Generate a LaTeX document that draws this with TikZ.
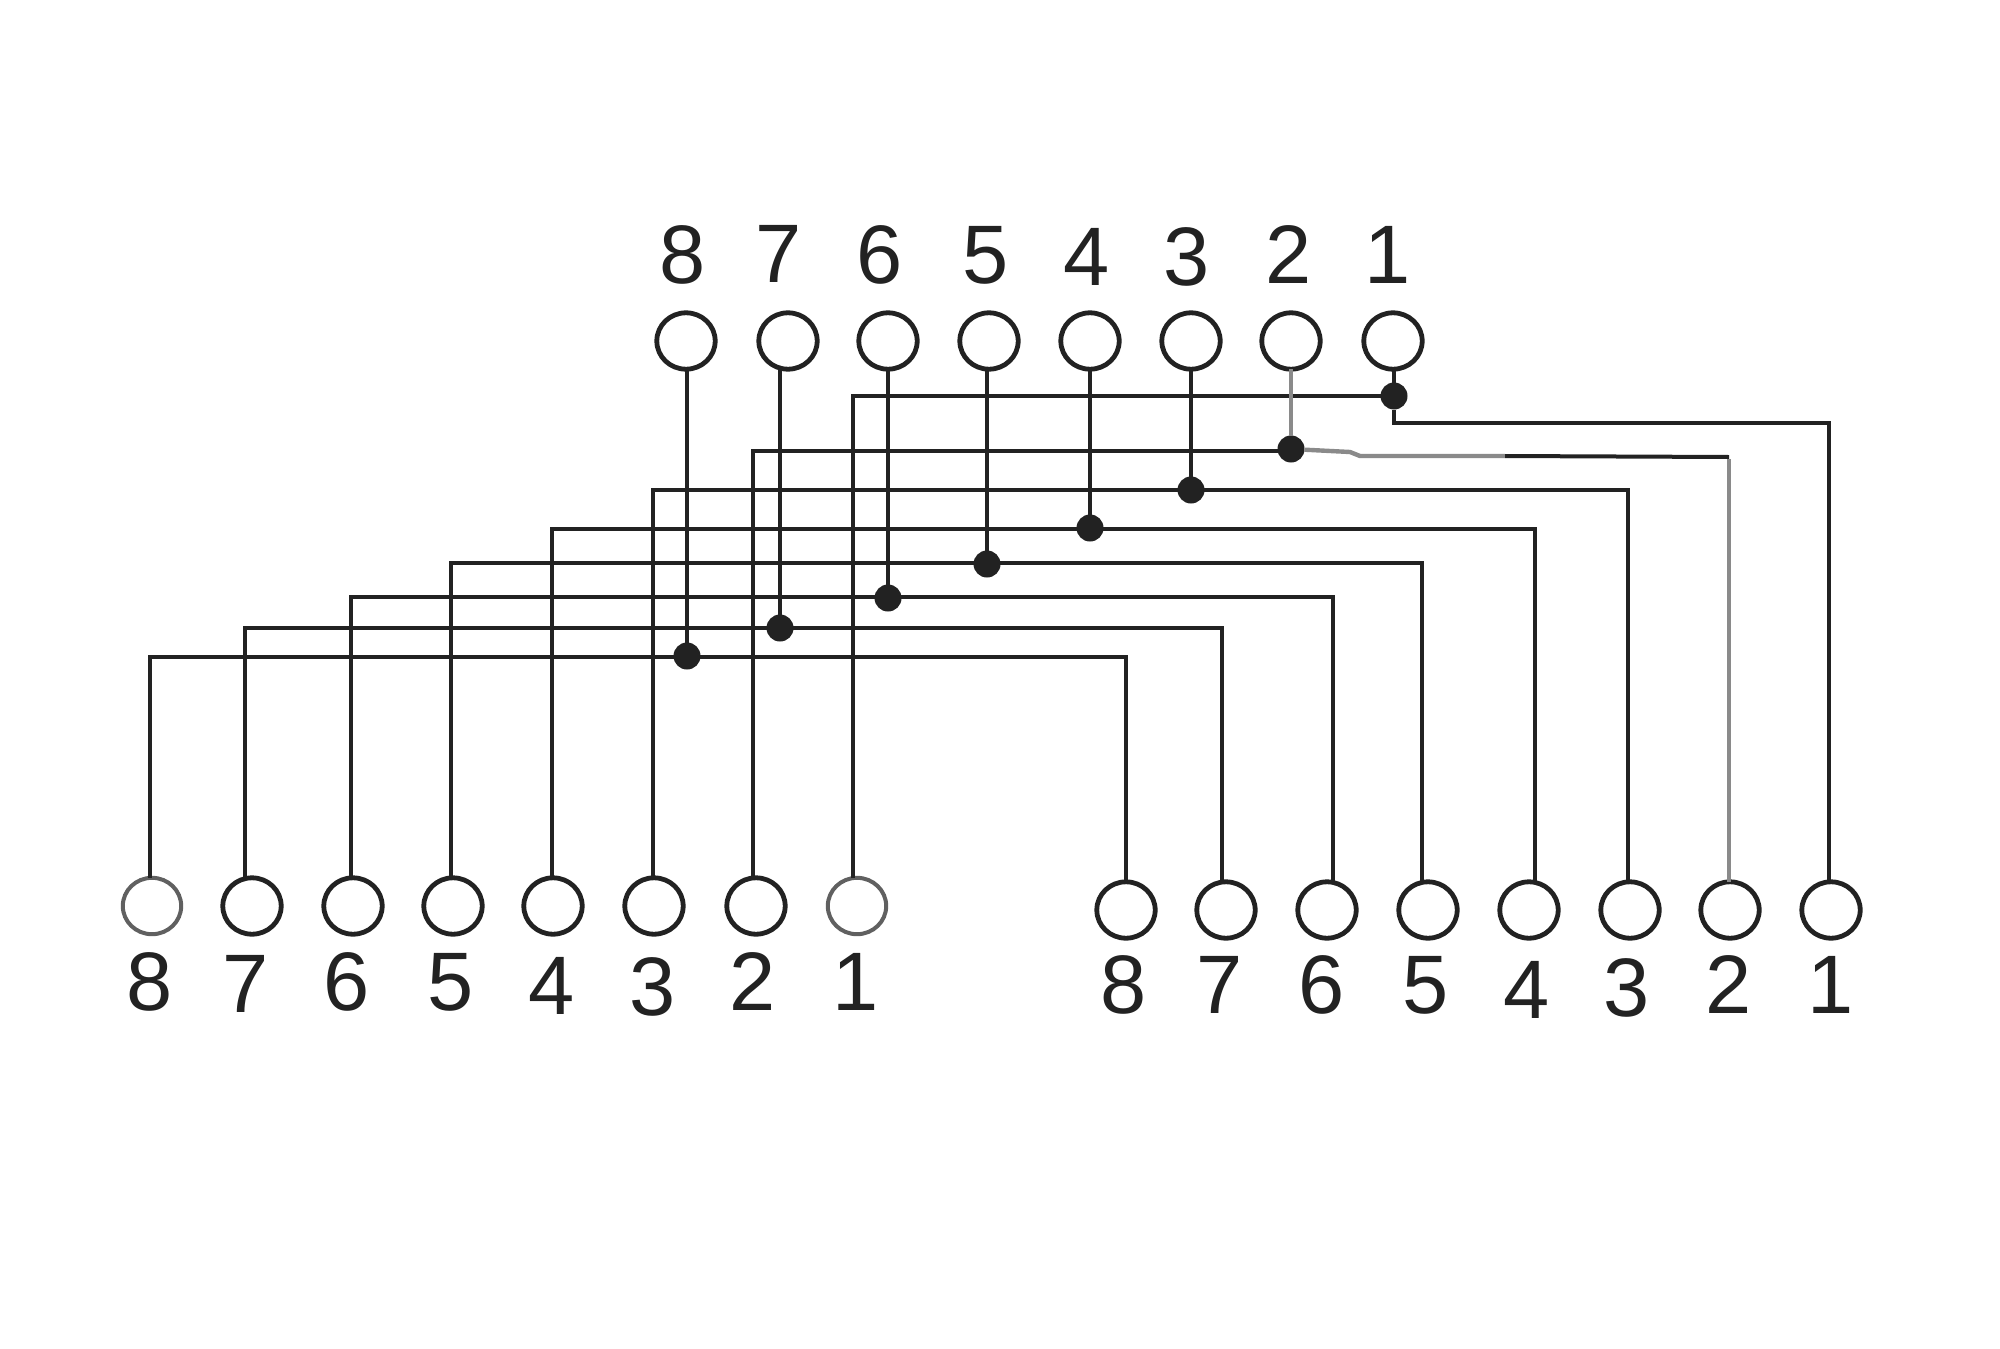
\documentclass[tikz,border=0pt]{standalone}
\usepackage{fontspec}
\setmainfont{Liberation Sans}
\usetikzlibrary{shapes.geometric}
\definecolor{ink}{HTML}{222222}
\definecolor{faded}{HTML}{8A8A8A}
\definecolor{softink}{HTML}{606060}
\tikzset{
  pin/.style={ellipse,draw=ink,line width=2.4pt,fill=white,minimum width=29.2pt,minimum height=28.2pt,inner sep=0pt,outer sep=0pt},
  softpin/.style={pin,draw=softink,line width=2pt},
  joint/.style={circle,fill=ink,minimum size=13.5pt,inner sep=0pt,outer sep=0pt},
  digit/.style={inner sep=0pt,outer sep=0pt,text=ink,font=\fontsize{41.5}{42}\selectfont},
  wire/.style={draw=ink,line width=2pt,line join=miter},
  pale/.style={draw=faded,line width=2.2pt,line join=miter}
}
\begin{document}
\begin{tikzpicture}[x=0.5pt,y=-0.5pt]
\useasboundingbox (0,0) rectangle (2000,1348);
% pins
\foreach \n/\tc/\lc/\rc/\ls in {8/686/152/1126/softpin,7/788/252/1226/pin,6/888/353/1327/pin,5/989/453/1428/pin,4/1090/553/1529/pin,3/1191/654/1630/pin,2/1291/756/1730/pin,1/1393/857/1831/softpin}{
  \node[pin] (t\n) at (\tc,341) {};
  \node[\ls] (l\n) at (\lc,906) {};
  \node[pin] (r\n) at (\rc,910) {};
}
% joints
\foreach \n/\x/\y in {1/1394/396,2/1291/449,3/1191/490,4/1090/528,5/987/564,6/888/598,7/780/628,8/687/656}{
  \node[joint] (d\n) at (\x,\y) {};
}
% corners
\foreach \n/\lx/\rx/\ly/\ry in {1/853/1829/396/423,2/753/1729/451/457,3/653/1628/490/490,4/552/1535/529/529,5/451/1422/563/563,6/351/1333/597/597,7/245/1222/628/628,8/150/1126/657/657}{
  \coordinate (jl\n) at (\lx,\ly);
  \coordinate (jr\n) at (\rx,\ry);
}
\coordinate (jm1) at (1394,423);
\coordinate (jm2) at (1350,452);
\coordinate (jn2) at (1360,456);
\coordinate (jp2) at (1505,456);
\foreach \n in {1,...,8}{
  \draw[wire] (l\n.north -| jl\n) -- (jl\n) -- (jl\n -| d\n);
}
\foreach \n in {3,...,8}{
  \draw[wire] (jr\n -| d\n) -- (jr\n) -- (r\n.north -| jr\n);
}
\draw[wire] (d1) -- (jm1) -- (jr1) -- (r1.north -| jr1);
\draw[pale] (d2) -- (jm2) -- (jn2) -- (jp2);
\draw[wire] (jp2) -- (jr2);
\draw[pale] (jr2) ++(0,2) -- (r2.north -| jr2);
\foreach \n in {1,3,4,5,6,7,8}{
  \draw[wire] (t\n.south -| d\n) -- (d\n);
}
\draw[pale] (t2.south -| d2) -- (d2);
% labels
\foreach \n/\x/\y in {8/683/255,7/779/254,6/880/255,5/986/255,4/1087/257,3/1187/257,2/1289/255,1/1388/255}{
  \node[digit] (tt\n) at (\x,\y) {\n};
}
\foreach \n/\x/\y in {8/150/982,7/246/984,6/347/982,5/451/982,4/552/986,3/653/987,2/753/982,1/856/982}{
  \node[digit] (ll\n) at (\x,\y) {\n};
}
\foreach \n/\x/\y in {8/1124/985,7/1220/985,6/1322/985,5/1426/985,4/1527/990,3/1627/988,2/1729/985,1/1831/985}{
  \node[digit] (rr\n) at (\x,\y) {\n};
}
\end{tikzpicture}
\end{document}
